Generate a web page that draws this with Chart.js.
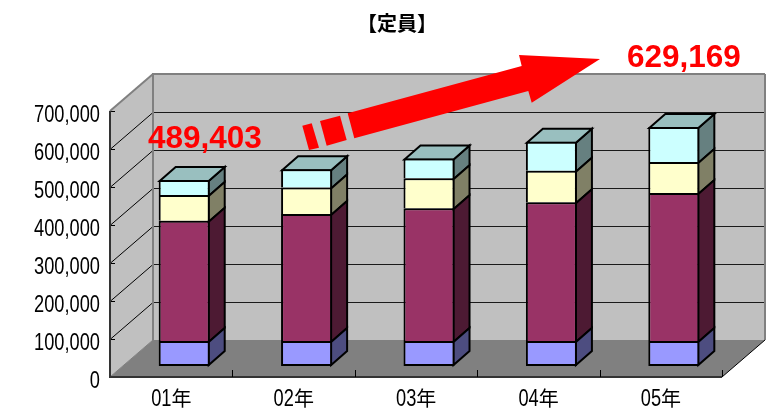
<!DOCTYPE html>
<html>
<head>
<meta charset="utf-8">
<style>
    body { margin: 0; background: #fff; }
</style>
<script src="https://cdn.jsdelivr.net/npm/chart.js@4"></script>
</head>
<body>
<canvas id="staffChart" width="767" height="411"></canvas>
<script>
const years = ['01年', '02年', '03年', '04年', '05年'];
const blueValues = [66000, 66000, 66000, 66000, 66000];
const maroonValues = [316000, 334000, 349000, 365000, 389000];
const yellowValues = [68000, 70000, 79000, 83000, 82000];
const cyanValues = [39403, 48000, 52000, 76000, 92169];
const titleText = '【定員】';

// front face, side face (half brightness), top face
const BAR_COLORS = {
    blue: ['#9999FF', '#4D4D80'],
    maroon: ['#993366', '#4D1A33'],
    yellow: ['#FFFFCC', '#808066'],
    cyan: ['#CCFFFF', '#668080', '#99BFBF'],
};

// 3d look: how far the back wall and the bars sit from the front plane
const WALL_DX = 43;
const WALL_DY = -37;
const BAR_SHIFT_X = 13;
const BAR_SHIFT_Y = -11;
const BAR_DX = 16;
const BAR_DY = -14;

// narrow half-width digits: no condensed face is installed, so squeeze Liberation Sans
const DIGIT_FONT = '24px "Liberation Sans"';
const DIGIT_SQUEEZE = 0.76;

function total(i) {
    return blueValues[i] + maroonValues[i] + yellowValues[i] + cyanValues[i];
}

function poly(c, points, fill, stroke, width) {
    c.beginPath();
    points.forEach((p, i) => i ? c.lineTo(p[0], p[1]) : c.moveTo(p[0], p[1]));
    c.closePath();
    if (fill) {
        c.fillStyle = fill;
        c.fill();
    }
    if (stroke) {
        c.strokeStyle = stroke;
        c.lineWidth = width;
        c.lineJoin = 'miter';
        c.stroke();
    }
}

function line(c, x1, y1, x2, y2, color, width) {
    c.beginPath();
    c.moveTo(x1, y1);
    c.lineTo(x2, y2);
    c.strokeStyle = color;
    c.lineWidth = width;
    c.stroke();
}

// draws digits squeezed, with x as their left edge; returns the width used
function squeezedText(c, text, x, baseline) {
    c.save();
    c.font = DIGIT_FONT;
    c.textAlign = 'left';
    c.textBaseline = 'alphabetic';
    c.fillStyle = '#000';
    c.translate(x, baseline);
    c.scale(DIGIT_SQUEEZE, 1);
    c.fillText(text, 0, 0);
    const w = c.measureText(text).width * DIGIT_SQUEEZE;
    c.restore();
    return w;
}

// walls, floor and axis lines, all hung off the chart's own scales
const wallsPlugin = {
    id: 'walls',
    beforeDraw(chart) {
        const c = chart.ctx;
        const yScale = chart.scales.y;
        const xScale = chart.scales.x;
        const { left, right, top, bottom } = chart.chartArea;
        const backLeft = left + WALL_DX;
        const backRight = right + WALL_DX;
        const backTop = top + WALL_DY;
        const backBottom = bottom + WALL_DY;

        c.save();
        poly(c, [[backLeft, backTop], [backRight, backTop], [backRight, backBottom], [backLeft, backBottom]], '#C0C0C0');
        poly(c, [[left, top], [backLeft, backTop], [backLeft, backBottom], [left, bottom]], '#C0C0C0');
        poly(c, [[left, bottom], [right, bottom], [backRight, backBottom], [backLeft, backBottom]], '#808080');

        yScale.ticks.forEach(tick => {
            const y = Math.round(yScale.getPixelForValue(tick.value)) + 0.5;
            if (tick.value > 0 && tick.value < yScale.max) {
                line(c, left, y, backLeft, y + WALL_DY, '#000', 1);
                line(c, backLeft, y + WALL_DY, backRight, y + WALL_DY, '#1a1a1a', 1);
            }
            line(c, left, y, left + 5, y, '#000', 1);
        });

        // wall edges
        line(c, left, top, backLeft, backTop, '#808080', 2);
        line(c, backLeft - 1, backTop, backRight, backTop, '#808080', 2);
        line(c, backRight, backTop, backRight, backBottom, '#808080', 2);
        line(c, backLeft, backTop, backLeft, backBottom, '#808080', 2);
        line(c, left, bottom, backLeft, backBottom, '#808080', 1);
        line(c, right, bottom, backRight, backBottom, '#000', 1);

        // front axis lines and category ticks
        line(c, left, top, left, bottom + 1, '#333', 2);
        line(c, left, bottom, right, bottom, '#333', 2);
        const band = (right - left) / years.length;
        years.forEach((y, i) => {
            const x = Math.round(xScale.getPixelForValue(i) + band / 2) + 0.5;
            line(c, x, bottom, x, bottom - 7, '#000', 1);
        });
        c.restore();
    },
    beforeDatasetDraw(chart, args) {
        const c = chart.ctx;
        const colors = chart.data.datasets[args.index].faceColors;
        const isTop = args.index === chart.data.datasets.length - 1;

        c.save();
        c.translate(BAR_SHIFT_X, BAR_SHIFT_Y);
        args.meta.data.forEach(bar => {
            const x2 = bar.x + bar.width / 2 - 1;
            const x1 = bar.x - bar.width / 2 + 1;
            const yTop = bar.y + 1;
            const yBottom = args.index === 0 ? bar.base - 1 : bar.base + 1;
            poly(c, [[x2, yTop], [x2 + BAR_DX, yTop + BAR_DY], [x2 + BAR_DX, yBottom + BAR_DY], [x2, yBottom]],
                 colors[1], '#000', 2);
            if (isTop) {
                poly(c, [[x1, yTop], [x1 + BAR_DX, yTop + BAR_DY], [x2 + BAR_DX, yTop + BAR_DY], [x2, yTop]],
                     colors[2], '#000', 2);
            }
        });
    },
    afterDatasetDraw(chart) {
        chart.ctx.restore();
    },
    afterDraw(chart) {
        const c = chart.ctx;
        const yScale = chart.scales.y;
        const xScale = chart.scales.x;

        // tick labels
        yScale.ticks.forEach(tick => {
            const label = tick.value.toLocaleString('en-US');
            c.save();
            c.font = DIGIT_FONT;
            const w = c.measureText(label).width * DIGIT_SQUEEZE;
            c.restore();
            squeezedText(c, label, 100 - w, yScale.getPixelForValue(tick.value) + 11);
        });
        years.forEach((year, i) => {
            const digits = year.slice(0, -1);
            const center = xScale.getPixelForValue(i);
            const used = squeezedText(c, digits, center - 20, 406);
            c.save();
            c.font = '20px "Noto Sans CJK JP"';
            c.fillStyle = '#000';
            c.textAlign = 'left';
            c.textBaseline = 'alphabetic';
            c.fillText(year.slice(-1), center - 20 + used, 406);
            c.restore();
        });

        c.save();
        // title
        c.fillStyle = '#000';
        c.font = 'bold 20px "Noto Sans CJK JP"';
        c.textAlign = 'center';
        c.textBaseline = 'middle';
        c.fillText(titleText, 397, 23);

        // the growth arrow, a shape laid over the chart
        poly(c, [[302.3, 125.7], [311.7, 123.3], [319, 147.7], [309, 150]], '#FF0000');
        poly(c, [[320, 121], [340, 115.7], [346.7, 140], [326.7, 145.7]], '#FF0000');
        poly(c, [[347.7, 113.3], [521.7, 66], [519, 55], [600, 59], [531.7, 102.7], [528.3, 91], [354.3, 138.3]], '#FF0000');

        c.fillStyle = '#FF0000';
        c.font = 'bold 31.5px "Liberation Sans"';
        c.textAlign = 'left';
        c.textBaseline = 'alphabetic';
        c.fillText(total(0).toLocaleString('en-US'), 148, 148);
        c.fillText(total(4).toLocaleString('en-US'), 627, 67);
        c.restore();
    }
};

function barDataset(values, colors, borderWidth) {
    return {
        data: values,
        backgroundColor: colors[0],
        borderColor: '#000',
        borderWidth: borderWidth,
        borderSkipped: false,
        inflateAmount: 0,
        faceColors: colors,
        clip: false,
    };
}

const noBottom = { top: 2, left: 2, right: 2, bottom: 0 };

const staffChart = new Chart(document.getElementById('staffChart'), {
    type: 'bar',
    data: {
        labels: years,
        datasets: [
            barDataset(blueValues, BAR_COLORS.blue, 2),
            barDataset(maroonValues, BAR_COLORS.maroon, noBottom),
            barDataset(yellowValues, BAR_COLORS.yellow, noBottom),
            barDataset(cyanValues, BAR_COLORS.cyan, noBottom),
        ],
    },
    options: {
        responsive: false,
        animation: false,
        barPercentage: 0.417,
        categoryPercentage: 1,
        layout: { padding: { left: 0, right: 45, top: 111, bottom: 0 } },
        plugins: {
            legend: { display: false },
            tooltip: { enabled: false },
            title: { display: false },
        },
        scales: {
            x: {
                stacked: true,
                grid: { display: false, drawTicks: false },
                border: { display: false },
                ticks: { display: false, maxRotation: 0 },
                afterFit(scale) { scale.height = 34; },
            },
            y: {
                stacked: true,
                min: 0,
                max: 700000,
                grid: { display: false, drawTicks: false },
                border: { display: false },
                ticks: { display: false, stepSize: 100000 },
                afterFit(scale) { scale.width = 110; },
            },
        },
    },
    plugins: [wallsPlugin],
});
</script>
</body>
</html>
